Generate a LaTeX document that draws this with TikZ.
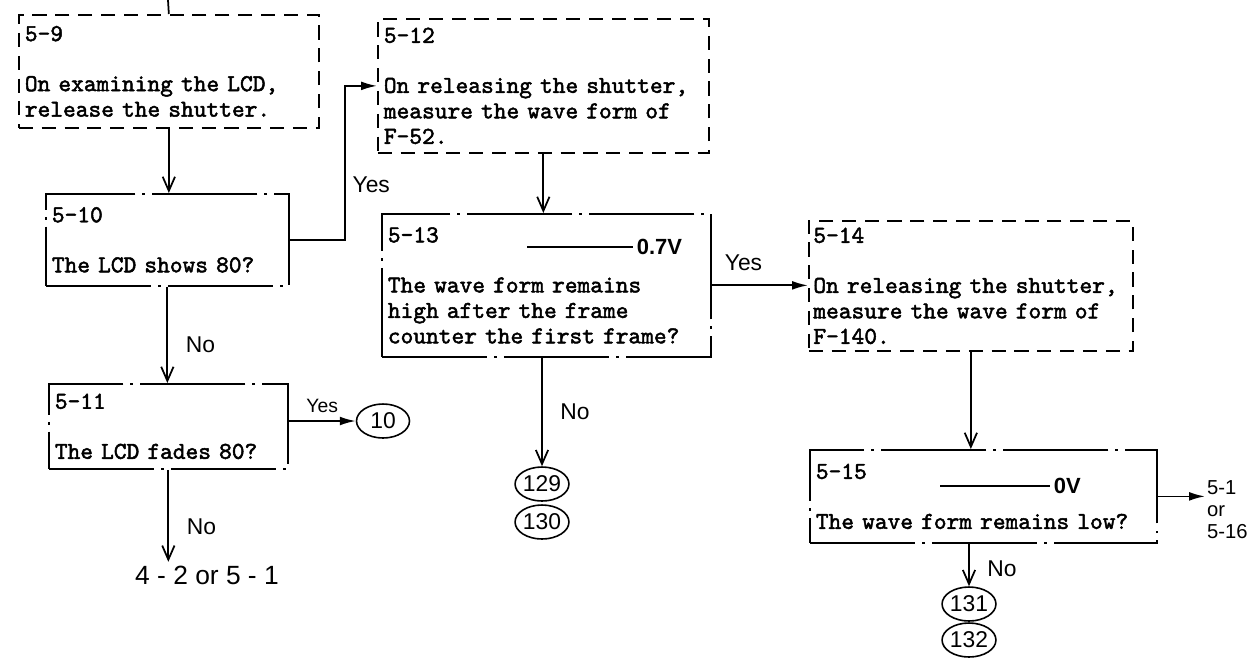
\documentclass[tikz,border=0pt]{standalone}
\usepackage{fontspec}
\setsansfont{Liberation Sans}
\newfontfamily\boxfont{lmmono10-regular.otf}[FakeBold=2]
\usetikzlibrary{arrows.meta,shapes.geometric,positioning}

\tikzset{
	dbox/.style={draw, line width=1pt, dash pattern=on 8pt off 5pt, anchor=north west, align=left, inner xsep=0.12cm, font=\boxfont\fontsize{13.8}{14.5}\selectfont},
	cbox/.style={draw, line width=1pt, dash pattern=on 60pt off 4pt on 1.5pt off 4pt, anchor=north west, align=left, inner xsep=0.12cm, font=\boxfont\fontsize{13.8}{14.5}\selectfont},
	hand/.style={font=\sffamily\fontsize{13}{13.5}\selectfont, inner sep=2pt},
	refnum/.style={draw, ellipse, line width=0.9pt, minimum width=1.06cm, minimum height=0.68cm, inner sep=0pt, font=\sffamily\fontsize{13}{13}\selectfont},
	down/.style={line width=1pt, -{Straight Barb[length=8pt,width=7pt]}},
	side/.style={line width=1pt, -{Latex[length=9pt,width=5pt]}}
}

\begin{document}
\begin{tikzpicture}[x=0.02cm, y=-0.02cm]
			\useasboundingbox (0,0) rectangle (1254,657);
			% boxes
			\node[dbox, minimum width=6cm, minimum height=2.26cm, text width=5.76cm] (b59) at (18,14) {5-9\\[14pt]On examining the LCD,\\release the shutter.};
			\node[cbox, minimum width=4.86cm, minimum height=1.84cm, text width=4.62cm] (b510) at (45,193) {5-10\\[14pt]The LCD shows 80?};
			\node[cbox, minimum width=4.78cm, minimum height=1.70cm, text width=4.54cm] (b511) at (48,383) {5-11\\[14pt]The LCD fades 80?};
			\node[dbox, minimum width=6.62cm, minimum height=2.68cm, text width=6.38cm] (b512) at (377,18) {5-12\\[14pt]On releasing the shutter,\\measure the wave form of\\F-52.};
			\node[cbox, minimum width=6.58cm, minimum height=2.86cm, text width=6.34cm] (b513) at (381,213) {5-13\\[14pt]The wave form remains\\high after the frame\\counter the first frame?};
			\node[dbox, minimum width=6.48cm, minimum height=2.60cm, text width=6.30cm, inner xsep=0.09cm] (b514) at (808,220) {5-14\\[14pt]On releasing the shutter,\\measure the wave form of\\F-140.};
			\node[cbox, minimum width=6.94cm, minimum height=1.86cm, text width=6.70cm] (b515) at (809,449) {5-15\\[14pt]The wave form remains low?};
			% wave levels
			\coordinate (w13) at (527,247);
			\node[hand, anchor=west, font=\sffamily\bfseries\fontsize{12.5}{12.5}\selectfont] (v13) at (633,247) {0.7V};
			\draw[line width=1pt] (w13) -- (v13.west);
			\coordinate (w15) at (940,486);
			\node[hand, anchor=west, font=\sffamily\bfseries\fontsize{12.5}{12.5}\selectfont] (v15) at (1050,486) {0V};
			\draw[line width=1pt] (w15) -- (v15.west);
			% ends
			\node[refnum] (e10) at (383,421) {10};
			\node[refnum] (e129) at (542,484) {129};
			\node[refnum] (e130) at (542,522) {130};
			\node[refnum] (e131) at (969,604) {131};
			\node[refnum] (e132) at (969,640) {132};
			\node[hand, font=\sffamily\fontsize{15}{15}\selectfont] (t42) at (207,575) {4 - 2 or 5 - 1};
			\node[hand, anchor=west, align=left, inner sep=1pt, font=\sffamily\fontsize{11.5}{12.5}\selectfont] (n516) at (1205,510) {5-1\\or\\5-16};
			% flow
			\coordinate (in) at (168,0);
			\draw[line width=1pt] (b59.north) -- (in);
			\draw[down] (b59.south) -- (b59.south |- b510.north);
			\draw[down] (b510.south) -- (b510.south |- b511.north) node[hand, pos=0.6, right=8pt] {No};
			\draw[side] (b510.east) -- ++(55,0) |- (b512.west) node[hand, pos=0.18, right=2pt] {Yes};
			\draw[side] (b511.east |- e10) -- (e10.west) node[hand, midway, above=2pt, font=\sffamily\fontsize{11}{11}\selectfont] {Yes};
			\draw[down] (b511.south) -- (b511.south |- t42.north) node[hand, pos=0.62, right=8pt] {No};
			\draw[down] (b512.south) -- (b512.south |- b513.north);
			\draw[side] (b513.east) -- (b513.east -| b514.west) node[hand, pos=0.33, above=6pt] {Yes};
			\draw[down] (e129.north |- b513.south) -- (e129.north) node[hand, pos=0.5, right=8pt] {No};
			\draw[down] (b514.south) -- (b514.south |- b515.north);
			\draw[side] (b515.east) -- (b515.east -| n516.west);
			\draw[down] (e131.north |- b515.south) -- (e131.north) node[hand, pos=0.6, right=8pt] {No};
		\end{tikzpicture}
\end{document}
